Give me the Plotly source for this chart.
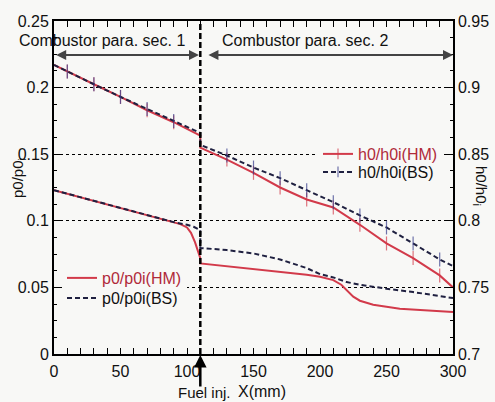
import plotly.graph_objects as go

# ---------------- data ----------------
h0_x = [0, 10, 30, 50, 70, 90, 110, 110, 130, 150, 170, 190, 210, 230, 250, 270, 290, 300]
h0_hm = [0.917, 0.912, 0.9025, 0.893, 0.883, 0.874, 0.864, 0.855, 0.846, 0.836, 0.825,
         0.816, 0.810, 0.797, 0.783, 0.772, 0.759, 0.750]
h0_bs = [0.917, 0.912, 0.9025, 0.893, 0.884, 0.875, 0.866, 0.857, 0.849, 0.840, 0.832,
         0.823, 0.814, 0.804, 0.795, 0.783, 0.771, 0.766]
h0_marker = [0, 1, 1, 1, 1, 1, 0, 0, 1, 1, 1, 1, 1, 1, 1, 1, 1, 0]

p0_hm_x = [0, 20, 40, 60, 80, 90, 95, 100, 103, 106, 108, 110, 110, 130, 150, 170, 190,
           200, 210, 216, 220, 225, 230, 240, 260, 280, 300]
p0_hm = [0.123, 0.1177, 0.1123, 0.107, 0.1017, 0.099, 0.0975, 0.095, 0.091, 0.084, 0.077,
         0.072, 0.068, 0.066, 0.064, 0.062, 0.0595, 0.058, 0.0555, 0.052, 0.048, 0.043,
         0.040, 0.037, 0.034, 0.0325, 0.0315]

p0_bs_x = [0, 20, 40, 60, 80, 90, 100, 105, 110, 110, 130, 150, 170, 190, 200, 210, 220,
           230, 250, 270, 300]
p0_bs = [0.123, 0.1177, 0.1123, 0.107, 0.1017, 0.099, 0.097, 0.0955, 0.093, 0.0796, 0.078,
         0.0755, 0.071, 0.0645, 0.060, 0.0575, 0.054, 0.052, 0.049, 0.0465, 0.042]

fuel_x = 110
sec_y = 0.2245

RED = "#d23a4a"
NAVY = "#1f2040"
BG = "#f8f8f6"
FONT = "Liberation Sans, Arial, sans-serif"

# pixel helpers for paper placement
L, R, T, B = 54, 453, 21, 354
def px(x):
    return (x - L) / (R - L)
def py(y):
    return (B - y) / (B - T)

def label(xp, yp, text, size=16, angle=0):
    return dict(x=px(xp), y=py(yp), xref="paper", yref="paper", text=text,
                xanchor="center", yanchor="middle", textangle=angle,
                showarrow=False, font=dict(size=size, color="#111"))

def leg(xp, yp, bg):
    return dict(x=px(xp), y=py(yp), xanchor="left", yanchor="top",
                bgcolor=bg, borderwidth=0, font=dict(size=16, color="#111"),
                tracegroupgap=0, itemwidth=30)

fig = go.Figure()

fig.add_trace(go.Scatter(
    x=p0_hm_x, y=p0_hm, mode="lines", yaxis="y",
    line=dict(color=RED, width=2),
    name="<span style='color:#b02a3a'>p0/p0i(HM)</span>", legend="legend3"))
fig.add_trace(go.Scatter(
    x=p0_bs_x, y=p0_bs, mode="lines", yaxis="y",
    line=dict(color=NAVY, width=2, dash="5px,3px"),
    name="p0/p0i(BS)", legend="legend4"))

fig.add_trace(go.Scatter(
    x=h0_x, y=h0_hm, mode="lines+markers", yaxis="y2",
    line=dict(color=RED, width=2),
    marker=dict(symbol="line-ns", size=[10 * m for m in h0_marker],
                line=dict(color=RED, width=1.2)),
    name="<span style='color:#b02a3a'>h0/h0i(HM)</span>", legend="legend"))
fig.add_trace(go.Scatter(
    x=h0_x, y=h0_bs, mode="lines+markers", yaxis="y2",
    line=dict(color=NAVY, width=2, dash="5px,3px"),
    marker=dict(symbol="line-ns", size=[10 * m for m in h0_marker],
                line=dict(color="#343a8a", width=1.2)),
    name="h0/h0i(BS)", legend="legend2"))

# vertical fuel injection line
fig.add_shape(type="line", x0=fuel_x, x1=fuel_x, y0=0, y1=0.25, xref="x", yref="y",
              line=dict(color="black", width=2.5, dash="6px,3px"))

annotations = [
    # section arrows
    dict(x=fuel_x - 1, y=sec_y, ax=0.5, ay=sec_y, xref="x", yref="y", axref="x", ayref="y",
         showarrow=True, arrowhead=2, arrowside="end+start", arrowsize=1, arrowwidth=2,
         arrowcolor="#444", text=""),
    dict(x=300, y=sec_y, ax=fuel_x + 5, ay=sec_y, xref="x", yref="y", axref="x", ayref="y",
         showarrow=True, arrowhead=2, arrowside="end+start", arrowsize=1, arrowwidth=2,
         arrowcolor="#444", text=""),
    label(102, 40, "Combustor para. sec. 1"),
    label(305, 40, "Combustor para. sec. 2"),
    # fuel injection arrow
    dict(x=fuel_x, y=0, xref="x", yref="y", ax=0, ay=34, axref="pixel", ayref="pixel",
         showarrow=True, arrowhead=2, arrowsize=1, arrowwidth=2.5, arrowcolor="black",
         text="", standoff=1),
    label(204, 393, "Fuel inj.", size=15),
    label(262, 391, "X(mm)"),
    # axis titles
    label(18, 178, "p0/p0<sub>i</sub>", size=15, angle=-90),
    label(481, 186, "h0/h0<sub>i</sub>", size=15, angle=90),
]

fig.update_layout(
    width=495, height=402,
    margin=dict(l=L, r=495 - R, t=T, b=402 - B, autoexpand=False),
    paper_bgcolor=BG, plot_bgcolor=BG,
    font=dict(family=FONT, size=16, color="#111"),
    showlegend=True,
    annotations=annotations,
    xaxis=dict(range=[0, 300], tickvals=[0, 50, 100, 150, 200, 250, 300],
               ticks="inside", ticklen=6, tickwidth=1.2, tickcolor="black",
               minor=dict(dtick=10, ticks="inside", ticklen=3, tickcolor="black"),
               showline=True, linewidth=2, linecolor="black", mirror="allticks",
               showgrid=False, zeroline=False, ticklabelstandoff=2),
    yaxis=dict(range=[0, 0.25], tickvals=[0, 0.05, 0.1, 0.15, 0.2, 0.25],
               ticktext=["0", "0.05", "0.1", "0.15", "0.2", "0.25"],
               ticks="inside", ticklen=6, tickwidth=1.2, tickcolor="black",
               minor=dict(dtick=0.0125, ticks="inside", ticklen=3, tickcolor="black"),
               showline=True, linewidth=2, linecolor="black",
               showgrid=True, gridcolor="black", gridwidth=1, griddash="dot",
               zeroline=False),
    yaxis2=dict(range=[0.7, 0.95], tickvals=[0.7, 0.75, 0.8, 0.85, 0.9, 0.95],
                ticktext=["0.7", "0.75", "0.8", "0.85", "0.9", "0.95"],
                overlaying="y", side="right",
                ticks="inside", ticklen=6, tickwidth=1.2, tickcolor="black",
                minor=dict(dtick=0.0125, ticks="inside", ticklen=3, tickcolor="black"),
                showline=True, linewidth=1.5, linecolor="black",
                showgrid=False, zeroline=False),
    legend=leg(318, 137, BG),
    legend2=leg(318, 155, "rgba(0,0,0,0)"),
    legend3=leg(62, 261, BG),
    legend4=leg(62, 281, "rgba(0,0,0,0)"),
)

fig.write_html("out.html")
